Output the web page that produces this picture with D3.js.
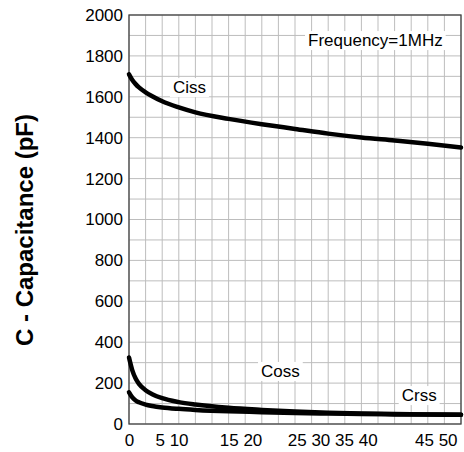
<!DOCTYPE html>
<html>
<head>
<meta charset="utf-8">
<script src="https://cdn.jsdelivr.net/npm/d3@7"></script>
<style>
  body { margin: 0; background: #fff; }
  text { font-family: "Liberation Sans", Arial, sans-serif; }
</style>
</head>
<body>
<div id="chart"></div>
<script>
// drain-source voltage (V) samples
var vds  = [0, 0.5, 1, 1.5, 2.5, 3.5, 5, 7.5, 10, 15, 20, 25, 30, 35, 40, 45, 50];
var ciss = [1710, 1682, 1662, 1646, 1622, 1603, 1578, 1548, 1524, 1492, 1466, 1443, 1420, 1401, 1386, 1370, 1352];
var coss = [325, 262, 222, 196, 165, 146, 126, 107, 95, 79, 69, 61, 55, 51, 49, 47, 45];
var crss = [155, 130, 115, 106, 95, 88, 81, 74, 69, 62, 58, 54, 51, 49, 47, 46, 45];
var seriesNames = ["Ciss", "Coss", "Crss"];

var yTicks = [0, 200, 400, 600, 800, 1000, 1200, 1400, 1600, 1800, 2000];
// x labels are grouped in the source figure
var xLabelGroups = ["0", "5 10", "15 20", "25 30 35 40", "45 50"];
var xLabelAt = [0, 6.4, 16.8, 30.6, 46.2];

var w = 464, h = 452;
var mLeft = 129, mRight = 461, mTop = 15, mBottom = 424;

var svg = d3.select("#chart").append("svg")
    .attr("width", w)
    .attr("height", h);

var x = d3.scaleLinear().domain([0, 50]).range([mLeft, mRight]);
var y = d3.scaleLinear().domain([0, 2000]).range([mBottom, mTop]);

// grid
svg.append("g").selectAll("line")
    .data(d3.range(0, 50.01, 2.5))
    .enter().append("line")
    .attr("x1", function(d) { return x(d); })
    .attr("x2", function(d) { return x(d); })
    .attr("y1", mTop).attr("y2", mBottom)
    .attr("stroke", "#bdbdbd").attr("stroke-width", 1);

svg.append("g").selectAll("line")
    .data(d3.range(0, 2001, 100))
    .enter().append("line")
    .attr("x1", mLeft).attr("x2", mRight)
    .attr("y1", function(d) { return y(d); })
    .attr("y2", function(d) { return y(d); })
    .attr("stroke", "#bdbdbd").attr("stroke-width", 1);

// frame
svg.append("rect")
    .attr("x", mLeft).attr("y", mTop)
    .attr("width", mRight - mLeft).attr("height", mBottom - mTop)
    .attr("fill", "none").attr("stroke", "#444").attr("stroke-width", 1.3);

// y axis
var yAxis = d3.axisLeft(y).tickValues(yTicks).tickSize(0).tickPadding(6)
    .tickFormat(d3.format("d"));
var gy = svg.append("g").attr("transform", "translate(" + mLeft + ",0)").call(yAxis);
gy.select(".domain").remove();
gy.selectAll("text").attr("font-size", 17).attr("fill", "#000")
    .style("font-family", "Liberation Sans, Arial, sans-serif");

// x axis (grouped labels)
var xAxis = d3.axisBottom(x).tickValues(xLabelAt).tickSize(0).tickPadding(10)
    .tickFormat(function(d, i) { return xLabelGroups[i]; });
var gx = svg.append("g").attr("transform", "translate(0," + mBottom + ")").call(xAxis);
gx.select(".domain").remove();
gx.selectAll("text").attr("font-size", 17).attr("fill", "#000")
    .style("font-family", "Liberation Sans, Arial, sans-serif");

// y title
svg.append("text")
    .attr("transform", "translate(33," + 230 + ") rotate(-90)")
    .attr("text-anchor", "middle")
    .attr("font-size", 24)
    .attr("font-weight", "bold")
    .text("C - Capacitance (pF)");

// curves
var line = d3.line()
    .x(function(d) { return x(d[0]); })
    .y(function(d) { return y(d[1]); })
    .curve(d3.curveMonotoneX);

[ciss, coss, crss].forEach(function(s) {
    svg.append("path")
        .datum(vds.map(function(v, i) { return [v, s[i]]; }))
        .attr("d", line)
        .attr("fill", "none")
        .attr("stroke", "#000")
        .attr("stroke-width", 4.5)
        .attr("stroke-linecap", "round");
});

// labels with white background
function boxedLabel(txt, vx, vy) {
    var g = svg.append("g");
    var t = g.append("text")
        .attr("x", x(vx)).attr("y", y(vy))
        .attr("text-anchor", "middle")
        .attr("dominant-baseline", "central")
        .attr("font-size", 17)
        .text(txt);
    var b = t.node().getBBox();
    g.insert("rect", "text")
        .attr("x", b.x - 3).attr("y", b.y)
        .attr("width", b.width + 6).attr("height", b.height)
        .attr("fill", "#fff");
}
boxedLabel(seriesNames[0], 9.1, 1645);
boxedLabel(seriesNames[1], 22.8, 257);
boxedLabel(seriesNames[2], 43.7, 139);
boxedLabel("Frequency=1MHz", 37.1, 1875);
</script>
</body>
</html>
